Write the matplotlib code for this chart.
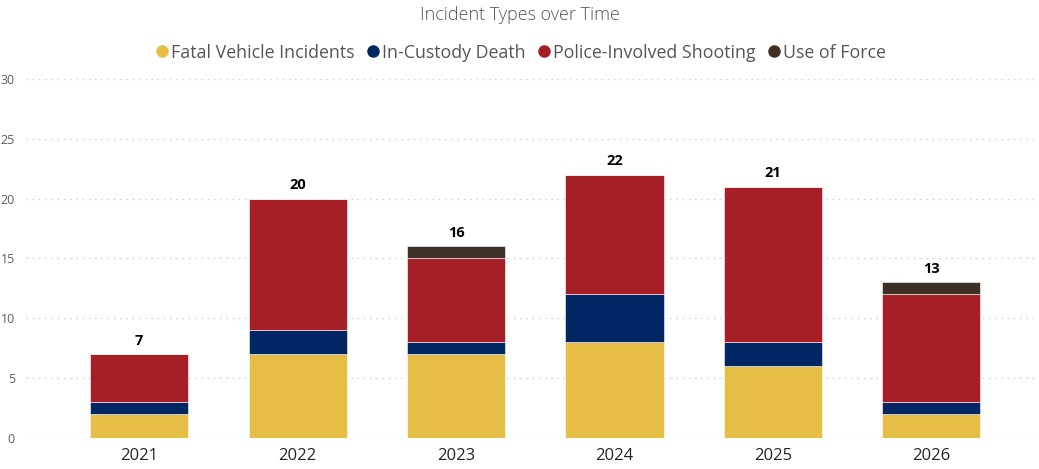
import numpy as np
import matplotlib.pyplot as plt
from matplotlib.lines import Line2D

# data
years = ['2021', '2022', '2023', '2024', '2025', '2026']
fatal_vehicle = [2, 7, 7, 8, 6, 2]
in_custody = [1, 2, 1, 4, 2, 1]
police_shooting = [4, 11, 7, 10, 13, 9]
use_of_force = [0, 0, 1, 0, 0, 1]

series_names = ['Fatal Vehicle Incidents', 'In-Custody Death',
                'Police-Involved Shooting', 'Use of Force']
colors = ['#E6BE46', '#002664', '#A61F27', '#3F3026']

plt.rcParams['font.family'] = ['Open Sans', 'DejaVu Sans']

fig = plt.figure(figsize=(10.39, 4.69), dpi=100)
ax = fig.add_axes([0.025, 0.066, 0.975, 0.766])

x = np.arange(len(years))
bottom = np.zeros(len(years))
for vals, col in zip([fatal_vehicle, in_custody, police_shooting, use_of_force], colors):
    ax.bar(x, vals, 0.62, bottom=bottom, color=col, edgecolor='white', linewidth=0.4, zorder=3)
    bottom += np.array(vals)

# totals above bars
for xi, tot in zip(x, bottom):
    ax.text(xi, tot + 0.55, str(int(tot)), ha='center', va='bottom',
            fontsize=10.5, fontweight='bold', color='black')

ax.set_xlim(-0.715, 5.68)
ax.set_ylim(0, 30)
ax.set_yticks([0, 5, 10, 15, 20, 25, 30])
ax.set_xticks(x)
ax.set_xticklabels(years, fontsize=12, color='#252423')
ax.tick_params(axis='y', labelsize=9, labelcolor='#605E5C', length=0, pad=8)
ax.tick_params(axis='x', length=0, pad=7)
ax.grid(axis='y', linestyle=(0, (1, 4)), color='#c8c8c8', linewidth=0.9, zorder=0)
for s in ax.spines.values():
    s.set_visible(False)

fig.text(0.5, 0.968, 'Incident Types over Time', ha='center', va='center',
         fontsize=13, color='#555555', fontweight='light')

handles = [Line2D([], [], marker='o', linestyle='', markersize=8, color=c) for c in colors]
fig.legend(handles, series_names, loc='center', bbox_to_anchor=(0.5, 0.888), ncol=4,
           frameon=False, fontsize=12.8, handletextpad=0.0, columnspacing=0.55,
           labelcolor='#555555', handlelength=1.0)

fig.savefig('out.png', dpi=100)
